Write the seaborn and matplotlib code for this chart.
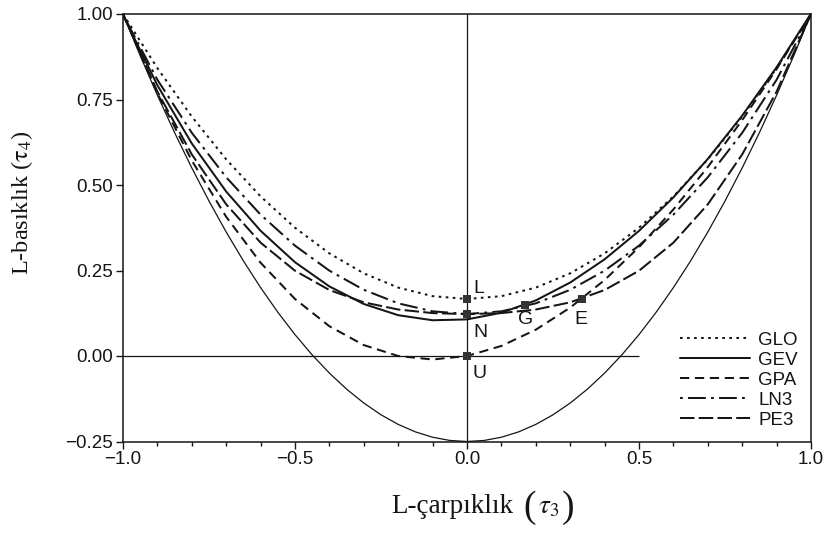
import matplotlib
matplotlib.use("Agg")
import matplotlib.pyplot as plt
import seaborn as sns
import pandas as pd

# ---------------- data ----------------
TAU3 = [-1.0, -0.9, -0.8, -0.7, -0.6, -0.5, -0.4, -0.3, -0.2, -0.1, 0.0,
        0.1, 0.2, 0.3, 0.4, 0.5, 0.6, 0.7, 0.8, 0.9, 1.0]
GLO = [1.0, 0.8417, 0.7, 0.575, 0.4667, 0.375, 0.3, 0.2417, 0.2, 0.175, 0.1667,
       0.175, 0.2, 0.2417, 0.3, 0.375, 0.4667, 0.575, 0.7, 0.8417, 1.0]
GEV = [0.9966, 0.7916, 0.6214, 0.4808, 0.3661, 0.2742, 0.2034, 0.1521, 0.1193, 0.1045, 0.1070,
       0.1265, 0.1626, 0.2148, 0.2827, 0.3658, 0.4638, 0.5762, 0.7029, 0.8443, 1.0008]
GPA = [1.0, 0.7683, 0.5714, 0.4070, 0.2727, 0.1667, 0.0870, 0.0319, 0.0, -0.0102, 0.0,
       0.0294, 0.0769, 0.1415, 0.2222, 0.3182, 0.4286, 0.5526, 0.6897, 0.8390, 1.0]
LN3 = [0.9981, 0.8077, 0.6526, 0.5226, 0.4133, 0.3226, 0.2495, 0.1935, 0.1540, 0.1306, 0.1228,
       0.1306, 0.1540, 0.1935, 0.2495, 0.3226, 0.4133, 0.5226, 0.6526, 0.8077, 0.9981]
PE3 = [1.0006, 0.7729, 0.5894, 0.4435, 0.3314, 0.2493, 0.1929, 0.1569, 0.1359, 0.1255, 0.1224,
       0.1255, 0.1359, 0.1569, 0.1929, 0.2493, 0.3314, 0.4435, 0.5894, 0.7729, 1.0006]

LB_TAU3 = [-1.0, -0.95, -0.9, -0.85, -0.8, -0.75, -0.7, -0.65, -0.6, -0.55, -0.5,
           -0.45, -0.4, -0.35, -0.3, -0.25, -0.2, -0.15, -0.1, -0.05, 0.0,
           0.05, 0.1, 0.15, 0.2, 0.25, 0.3, 0.35, 0.4, 0.45, 0.5,
           0.55, 0.6, 0.65, 0.7, 0.75, 0.8, 0.85, 0.9, 0.95, 1.0]
LB_TAU4 = [1.0, 0.8781, 0.7625, 0.6531, 0.55, 0.4531, 0.3625, 0.2781, 0.2, 0.1281, 0.0625,
           0.0031, -0.05, -0.0969, -0.1375, -0.1719, -0.2, -0.2219, -0.2375, -0.2469, -0.25,
           -0.2469, -0.2375, -0.2219, -0.2, -0.1719, -0.1375, -0.0969, -0.05, 0.0031, 0.0625,
           0.1281, 0.2, 0.2781, 0.3625, 0.4531, 0.55, 0.6531, 0.7625, 0.8781, 1.0]

PT_NAMES = ["L", "N", "G", "E", "U"]
PT_TAU3 = [0.0, 0.0, 0.1699, 0.3333, 0.0]
PT_TAU4 = [0.1667, 0.1226, 0.1504, 0.1667, 0.0]

SERIES = ["GLO", "GEV", "GPA", "LN3", "PE3"]
SERIES_VALUES = [GLO, GEV, GPA, LN3, PE3]

XTICKS = [-1.0, -0.5, 0.0, 0.5, 1.0]
YTICKS = [-0.25, 0.0, 0.25, 0.50, 0.75, 1.00]

XLABEL_TEXT = "L-çarpıklık"
XLABEL_SYMBOL = r"$\tau_3$"
YLABEL_TEXT = r"L-basıklık ($\mathrm{\tau}_4$)"

# ---------------- styling ----------------
sns.set_theme(style="ticks")
plt.rcParams["font.family"] = ["Liberation Sans", "DejaVu Sans"]
plt.rcParams["mathtext.fontset"] = "stix"
SERIF = ["Liberation Serif", "DejaVu Serif"]

LINESTYLES = {
    "GLO": (0, (1.3, 2.2)),
    "GEV": "-",
    "GPA": (0, (4.6, 2.8)),
    "LN3": (0, (1.4, 2.6, 8.8, 2.6)),
    "PE3": (0, (7.2, 2.1)),
}
INK = "#151515"
LW = 1.45

W, H = 825, 535
fig = plt.figure(figsize=(W / 100, H / 100), dpi=100)
ax = fig.add_axes([123 / W, 1 - 441.5 / H, (811 - 123) / W, (441.5 - 14) / H])

# reference lines
ax.axvline(0.0, color=INK, lw=0.9, zorder=1)
ax.hlines(0.0, -1.0, 0.5, color=INK, lw=0.9, zorder=1)

# lower bound
sns.lineplot(x=LB_TAU3, y=LB_TAU4, ax=ax, color=INK, lw=0.9, estimator=None,
             sort=False, legend=False, zorder=2)

# distribution curves
for name, vals in zip(SERIES, SERIES_VALUES):
    df = pd.DataFrame({"tau3": TAU3, "tau4": vals})
    sns.lineplot(data=df, x="tau3", y="tau4", ax=ax, color=INK, lw=LW,
                 linestyle=LINESTYLES[name], label=name, estimator=None,
                 sort=False, zorder=3)

# special points
sns.scatterplot(x=PT_TAU3, y=PT_TAU4, ax=ax, marker="s", s=36, color="#333333",
                edgecolor="#333333", linewidth=0, zorder=5, legend=False)

px = 0.72  # points per pixel
offsets = {
    "L": ((6, 2), "left", "bottom"),
    "N": ((6, -10), "left", "top"),
    "G": ((0, -6), "center", "top"),
    "E": ((-1, -12), "center", "top"),
    "U": ((6, -9), "left", "top"),
}
for n, x, y in zip(PT_NAMES, PT_TAU3, PT_TAU4):
    (dx, dy), ha, va = offsets[n]
    ax.annotate(n, (x, y), xytext=(dx * px, dy * px), textcoords="offset points",
                ha=ha, va=va, fontsize=14, color=INK, zorder=6)

# axes
ax.set_xlim(-1.0, 1.0)
ax.set_ylim(-0.25, 1.0)
ax.set_xticks(XTICKS)
ax.set_xticklabels([f"{v:.1f}".replace("-", "\u2212") for v in XTICKS])
ax.set_yticks(YTICKS)
ax.set_yticklabels([f"{v:.2f}".replace("-", "\u2212") for v in YTICKS])
ax.set_xticks([v / 10 for v in range(-10, 11)], minor=True)
ax.tick_params(axis="both", which="major", direction="out", length=5, width=1.0,
               labelsize=13.5, colors=INK, pad=2)
ax.tick_params(axis="x", which="minor", direction="out", length=3, width=1.0, colors=INK)
for s in ax.spines.values():
    s.set_visible(True)
    s.set_linewidth(1.1)
    s.set_color(INK)
ax.set_xlabel("")
ax.set_ylabel("")

# x label: text + large parentheses around tau_3
def fx(p):
    return p / W

def fy(p):
    return 1 - p / H

fig.text(fx(513), fy(513), XLABEL_TEXT, ha="right", va="baseline",
         fontsize=19.5, family=SERIF, color=INK)
fig.text(fx(530), fy(517), "(", ha="center", va="baseline",
         fontsize=27, family=SERIF, color=INK)
fig.text(fx(549), fy(513), XLABEL_SYMBOL, ha="center", va="baseline",
         fontsize=19.5, color=INK)
fig.text(fx(568), fy(517), ")", ha="center", va="baseline",
         fontsize=27, family=SERIF, color=INK)

fig.text(fx(22), fy(203), YLABEL_TEXT, ha="center", va="center", rotation=90,
         fontsize=17.5, family=SERIF, color=INK)

leg = ax.legend(loc="lower right", bbox_to_anchor=(0.981, 0.03), frameon=False,
                fontsize=13.5, handlelength=3.7, handletextpad=0.45,
                labelspacing=0.15, borderpad=0, borderaxespad=0)
for t in leg.get_texts():
    t.set_color(INK)

fig.savefig("out.png", dpi=100, facecolor="white")
